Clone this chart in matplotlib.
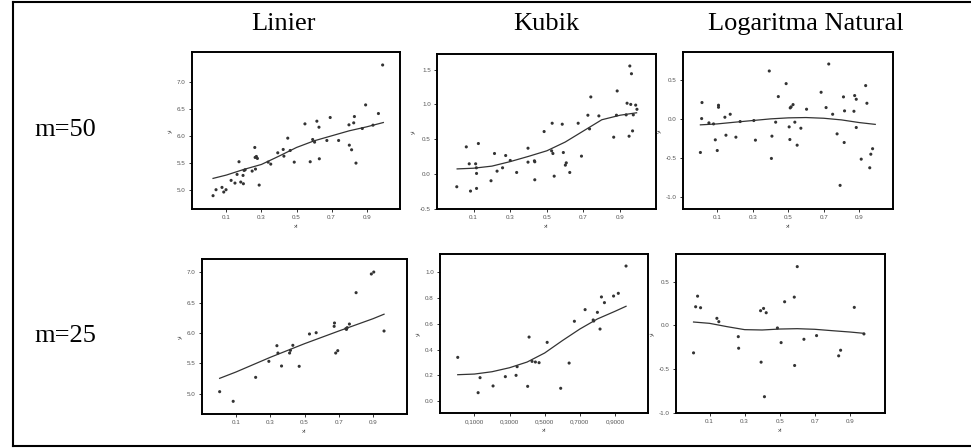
import matplotlib
matplotlib.use("Agg")
import matplotlib.pyplot as plt
from matplotlib.lines import Line2D

# ---------------- data ----------------
col_titles = ["Linier", "Kubik", "Logaritma Natural"]
row_titles = ["m=50", "m=25"]

# Linier, m=50
lin50_x = [0.024, 0.041, 0.075, 0.085, 0.098, 0.127, 0.149, 0.161, 0.172, 0.182,
           0.195, 0.197, 0.201, 0.207, 0.247, 0.262, 0.264, 0.266, 0.271, 0.277,
           0.287, 0.338, 0.353, 0.393, 0.424, 0.428, 0.450, 0.464, 0.487, 0.548,
           0.578, 0.592, 0.603, 0.616, 0.628, 0.630, 0.673, 0.692, 0.740, 0.799,
           0.801, 0.814, 0.826, 0.830, 0.839, 0.875, 0.894, 0.936, 0.967, 0.991]
lin50_y = [4.889, 5.000, 5.043, 4.957, 5.000, 5.173, 5.123, 5.284, 5.519, 5.142,
           5.265, 5.111, 5.358, 5.370, 5.346, 5.784, 5.599, 5.383, 5.617, 5.580,
           5.086, 5.512, 5.475, 5.685, 5.747, 5.623, 5.957, 5.728, 5.512, 6.222,
           5.519, 5.932, 5.883, 6.272, 6.160, 5.574, 5.914, 6.340, 5.914, 6.204,
           5.827, 5.741, 6.241, 6.358, 5.494, 6.136, 6.574, 6.198, 6.414, 7.315]
lin50_fit_x = [0.024, 0.1, 0.2, 0.3, 0.4, 0.5, 0.6, 0.7, 0.8, 0.9, 0.995]
lin50_fit_y = [5.210, 5.272, 5.377, 5.469, 5.623, 5.784, 5.907, 6.000, 6.093, 6.167, 6.247]

# Kubik, m=50
kub50_x = [0.008, 0.060, 0.076, 0.083, 0.111, 0.115, 0.116, 0.116, 0.126, 0.195,
           0.214, 0.228, 0.258, 0.275, 0.300, 0.335, 0.397, 0.397, 0.432, 0.434,
           0.434, 0.485, 0.526, 0.529, 0.533, 0.540, 0.584, 0.590, 0.601, 0.606,
           0.625, 0.671, 0.689, 0.724, 0.733, 0.740, 0.784, 0.865, 0.880, 0.884,
           0.933, 0.938, 0.949, 0.953, 0.962, 0.958, 0.985, 0.972, 0.968, 0.992]
kub50_y = [-0.181, 0.391, 0.148, -0.243, 0.148, 0.091, 0.010, -0.205, 0.439, -0.095,
           0.296, 0.043, 0.091, 0.267, 0.196, 0.024, 0.372, 0.172, 0.191, 0.177,
           -0.081, 0.611, 0.334, 0.730, 0.296, -0.029, 0.716, 0.310, 0.129, 0.162,
           0.024, 0.730, 0.258, 0.845, 0.649, 1.107, 0.835, 0.530, 0.845, 1.193,
           0.850, 1.017, 0.544, 1.551, 1.440, 1.000, 0.990, 0.850, 0.620, 0.930]
kub50_fit_x = [0.01, 0.1, 0.2, 0.3, 0.4, 0.5, 0.6, 0.7, 0.8, 0.9, 0.99]
kub50_fit_y = [0.075, 0.085, 0.115, 0.180, 0.255, 0.335, 0.460, 0.620, 0.780, 0.845, 0.880]

# Logaritma Natural, m=50
log50_x = [0.005, 0.012, 0.014, 0.053, 0.079, 0.089, 0.100, 0.107, 0.107, 0.143,
           0.149, 0.173, 0.205, 0.229, 0.306, 0.315, 0.393, 0.405, 0.408, 0.429,
           0.444, 0.488, 0.505, 0.509, 0.511, 0.516, 0.527, 0.537, 0.550, 0.571,
           0.603, 0.685, 0.713, 0.728, 0.750, 0.775, 0.792, 0.811, 0.815, 0.817,
           0.870, 0.874, 0.883, 0.883, 0.911, 0.936, 0.943, 0.959, 0.965, 0.975]
log50_y = [-0.428, 0.004, 0.208, -0.051, -0.064, -0.267, -0.403, 0.148, 0.174, 0.021,
           -0.208, 0.059, -0.233, -0.034, -0.021, -0.271, 0.610, -0.504, -0.220, -0.042,
           0.284, 0.449, -0.102, -0.263, 0.140, 0.153, 0.182, -0.042, -0.335, -0.119,
           0.123, 0.339, 0.144, 0.699, 0.059, -0.191, -0.847, 0.280, -0.301, 0.102,
           0.097, 0.297, 0.250, -0.110, -0.513, 0.424, 0.199, -0.623, -0.450, -0.380]
log50_fit_x = [0.005, 0.1, 0.2, 0.3, 0.4, 0.5, 0.6, 0.7, 0.8, 0.9, 0.99]
log50_fit_y = [-0.076, -0.064, -0.042, -0.021, 0.000, 0.013, 0.017, 0.008, -0.013, -0.047, -0.070]

# Linier, m=25
lin25_x = [0.005, 0.084, 0.215, 0.292, 0.339, 0.345, 0.366, 0.413, 0.418, 0.432,
           0.469, 0.529, 0.568, 0.673, 0.675, 0.682, 0.694, 0.741, 0.749, 0.762,
           0.801, 0.890, 0.904, 0.964, 0.745]
lin25_y = [5.033, 4.874, 5.269, 5.533, 5.791, 5.670, 5.456, 5.670, 5.714, 5.797,
           5.451, 5.984, 6.005, 6.110, 6.165, 5.670, 5.709, 6.071, 6.088, 6.148,
           6.665, 6.973, 7.005, 6.033, 6.060]
lin25_fit_x = [0.005, 0.1, 0.3, 0.5, 0.7, 0.9, 0.964]
lin25_fit_y = [5.253, 5.357, 5.599, 5.824, 6.033, 6.236, 6.310]

# Kubik, m=25
kub25_x = [0.005, 0.121, 0.132, 0.206, 0.276, 0.337, 0.343, 0.403, 0.411, 0.428,
           0.447, 0.468, 0.514, 0.591, 0.639, 0.669, 0.730, 0.776, 0.779, 0.800,
           0.815, 0.823, 0.840, 0.892, 0.919, 0.963]
kub25_y = [0.340, 0.067, 0.183, 0.119, 0.191, 0.201, 0.268, 0.116, 0.497, 0.309,
           0.304, 0.299, 0.456, 0.101, 0.296, 0.619, 0.709, 0.629, 0.621, 0.688,
           0.559, 0.807, 0.763, 0.814, 0.835, 1.046]
kub25_fit_x = [0.005, 0.1, 0.2, 0.3, 0.4, 0.5, 0.6, 0.7, 0.8, 0.9, 0.963]
kub25_fit_y = [0.206, 0.211, 0.229, 0.260, 0.304, 0.374, 0.469, 0.559, 0.637, 0.696, 0.735]

# Logaritma Natural, m=25
log25_x = [0.009, 0.021, 0.032, 0.049, 0.142, 0.153, 0.264, 0.266, 0.391, 0.394,
           0.408, 0.413, 0.423, 0.487, 0.508, 0.528, 0.583, 0.585, 0.600, 0.638,
           0.710, 0.836, 0.847, 0.925, 0.980]
log25_y = [-0.314, 0.212, 0.333, 0.201, 0.080, 0.042, -0.129, -0.261, 0.167, -0.420,
           0.193, -0.814, 0.144, -0.030, -0.197, 0.269, 0.322, -0.458, 0.670, -0.159,
           -0.117, -0.348, -0.284, 0.205, -0.098]
log25_fit_x = [0.009, 0.1, 0.2, 0.3, 0.4, 0.5, 0.6, 0.7, 0.8, 0.9, 0.98]
log25_fit_y = [0.038, 0.023, -0.015, -0.049, -0.053, -0.042, -0.038, -0.045, -0.061, -0.076, -0.091]

xticks_std = [0.1, 0.3, 0.5, 0.7, 0.9]
xticklabels_std = ["0.1", "0.3", "0.5", "0.7", "0.9"]
xticklabels_comma = ["0,1000", "0,3000", "0,5000", "0,7000", "0,9000"]

# ---------------- layout ----------------
W, H = 971, 448
fig = plt.figure(figsize=(W / 100, H / 100), dpi=100)

def add_ax(x0, y0, x1, y1):
    return fig.add_axes([x0 / W, 1 - y1 / H, (x1 - x0) / W, (y1 - y0) / H])

panels = [
    # (box px, x, y, fitx, fity, xlim, ylim, yticks, yticklabels, xticklabels)
    ((192, 52, 400, 209), lin50_x, lin50_y, lin50_fit_x, lin50_fit_y,
     (-0.096, 1.09), (4.642, 7.556), [5.0, 5.5, 6.0, 6.5, 7.0],
     ["5.0", "5.5", "6.0", "6.5", "7.0"], xticklabels_std),
    ((437, 54, 656, 209), kub50_x, kub50_y, kub50_fit_x, kub50_fit_y,
     (-0.10, 1.096), (-0.497, 1.723), [-0.5, 0.0, 0.5, 1.0, 1.5],
     ["-0.5", "0.0", "0.5", "1.0", "1.5"], xticklabels_std),
    ((683, 52, 893, 209), log50_x, log50_y, log50_fit_x, log50_fit_y,
     (-0.093, 1.09), (-1.148, 0.852), [-1.0, -0.5, 0.0, 0.5],
     ["-1.0", "-0.5", "0.0", "0.5"], xticklabels_std),
    ((202, 259, 407, 414), lin25_x, lin25_y, lin25_fit_x, lin25_fit_y,
     (-0.098, 1.098), (4.665, 7.22), [5.0, 5.5, 6.0, 6.5, 7.0],
     ["5.0", "5.5", "6.0", "6.5", "7.0"], xticklabels_std),
    ((440, 254, 648, 413), kub25_x, kub25_y, kub25_fit_x, kub25_fit_y,
     (-0.096, 1.088), (-0.09, 1.139), [0.0, 0.2, 0.4, 0.6, 0.8, 1.0],
     ["0.0", "0.2", "0.4", "0.6", "0.8", "1.0"], xticklabels_comma),
    ((676, 254, 885, 413), log25_x, log25_y, log25_fit_x, log25_fit_y,
     (-0.091, 1.10), (-0.992, 0.814), [-1.0, -0.5, 0.0, 0.5],
     ["-1.0", "-0.5", "0.0", "0.5"], xticklabels_std),
]

tick_col = "#555555"
for (box, xs, ys, fx, fy, xl, yl, yt, ytl, xtl) in panels:
    ax = add_ax(*box)
    ax.scatter(xs, ys, s=5, color="#333333", edgecolors="none", zorder=3)
    ax.plot(fx, fy, color="#333333", lw=0.9, zorder=2)
    ax.set_xlim(*xl)
    ax.set_ylim(*yl)
    ax.set_xticks(xticks_std)
    ax.set_xticklabels(xtl)
    ax.set_yticks(yt)
    ax.set_yticklabels(ytl)
    ax.tick_params(direction="out", length=2.5, width=0.7, pad=2,
                   labelsize=4.5, labelcolor=tick_col, color="#333333")
    for lab in ax.get_xticklabels() + ax.get_yticklabels():
        lab.set_family("Liberation Sans")
    for sp in ax.spines.values():
        sp.set_linewidth(1.4)
        sp.set_color("black")
    ax.set_xlabel("xi", fontsize=4.5, color=tick_col, family="Liberation Sans", labelpad=3)
    ax.set_ylabel("yi", fontsize=4.5, color=tick_col, family="Liberation Sans", labelpad=3)

# headers and row labels
serif = "Liberation Serif"
for txt, cx in zip(col_titles, [283, 546, 806]):
    fig.text(cx / W, 1 - 24 / H, txt, ha="center", va="center", fontsize=19, family=serif)
for txt, cy in zip(row_titles, [130, 336]):
    fig.text(65 / W, 1 - cy / H, txt, ha="center", va="center", fontsize=19, family=serif)

# outer frame
frame_kw = dict(color="black", lw=1.5, transform=fig.transFigure)
fig.add_artist(Line2D([13 / W, 13 / W], [1 - 2 / H, 1 - 446 / H], **frame_kw))
fig.add_artist(Line2D([13 / W, 1.0], [1 - 2 / H, 1 - 2 / H], **frame_kw))
fig.add_artist(Line2D([13 / W, 1.0], [1 - 446 / H, 1 - 446 / H], **frame_kw))

fig.savefig("out.png", dpi=100)
